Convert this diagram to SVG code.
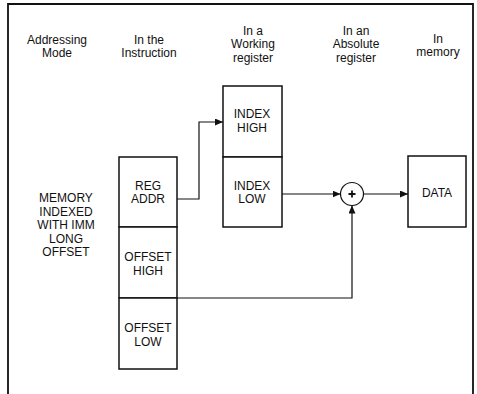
<svg xmlns="http://www.w3.org/2000/svg" width="477" height="394" viewBox="0 0 477 394">
<defs>
<marker id="ah" markerWidth="8" markerHeight="7" refX="8" refY="3.5" orient="auto" markerUnits="userSpaceOnUse">
<path d="M0,0 L8,3.5 L0,7 Z" fill="#111"/>
</marker>
</defs>
<style>
text{font-family:"Liberation Sans",Arial,sans-serif;font-size:12px;fill:#111;text-anchor:middle}
.box{fill:#fff;stroke:#111;stroke-width:1.5}
.ln{fill:none;stroke:#111;stroke-width:1.2}
.frame{fill:none;stroke:#111;stroke-width:1.8}
</style>
<rect width="477" height="394" fill="#fff"/>
<path class="frame" d="M8,394 V4 H473 V394"/>
<g id="headers">
<text x="57" y="43.5">Addressing<tspan x="57" dy="13.5">Mode</tspan></text>
<text x="149" y="43.5">In the<tspan x="149" dy="13.5">Instruction</tspan></text>
<text x="253" y="34.5">In a<tspan x="253" dy="13.5">Working</tspan><tspan x="253" dy="13.5">register</tspan></text>
<text x="356" y="34.5">In an<tspan x="356" dy="13.5">Absolute</tspan><tspan x="356" dy="13.5">register</tspan></text>
<text x="438" y="42.5">In<tspan x="438" dy="13.5">memory</tspan></text>
</g>
<g id="mode">
<text x="66" y="202">MEMORY<tspan x="66" dy="13.5">INDEXED</tspan><tspan x="66" dy="13.5">WITH IMM</tspan><tspan x="66" dy="13.5">LONG</tspan><tspan x="66" dy="13.5">OFFSET</tspan></text>
</g>
<g id="connectors">
<path class="ln" d="M177,199 H199 V122 H223" marker-end="url(#ah)"/>
<path class="ln" d="M282,194 H340.5" marker-end="url(#ah)"/>
<path class="ln" d="M363.5,194 H408" marker-end="url(#ah)"/>
<path class="ln" d="M177,298 H352 V205.5" marker-end="url(#ah)"/>
</g>
<g id="reg-addr"><rect class="box" x="119" y="157" width="58" height="70"/><text x="148" y="189.5">REG<tspan x="148" dy="13.5">ADDR</tspan></text></g>
<g id="offset-high"><rect class="box" x="119" y="227" width="58" height="71"/><text x="148" y="261">OFFSET<tspan x="148" dy="14">HIGH</tspan></text></g>
<g id="offset-low"><rect class="box" x="119" y="298" width="58" height="71"/><text x="148" y="332">OFFSET<tspan x="148" dy="14">LOW</tspan></text></g>
<g id="index-high"><rect class="box" x="223" y="86" width="59" height="71"/><text x="252" y="118">INDEX<tspan x="252" dy="14">HIGH</tspan></text></g>
<g id="index-low"><rect class="box" x="223" y="157" width="59" height="70"/><text x="252" y="189.5">INDEX<tspan x="252" dy="13.5">LOW</tspan></text></g>
<g id="adder"><circle cx="352" cy="194" r="11.5" fill="#fff" stroke="#111" stroke-width="1.2"/><path d="M348.5,194 H355.5 M352,190.5 V197.5" stroke="#111" stroke-width="1.8"/></g>
<g id="data"><rect class="box" x="408" y="156" width="58" height="71"/><text x="437" y="196.5">DATA</text></g>
</svg>
